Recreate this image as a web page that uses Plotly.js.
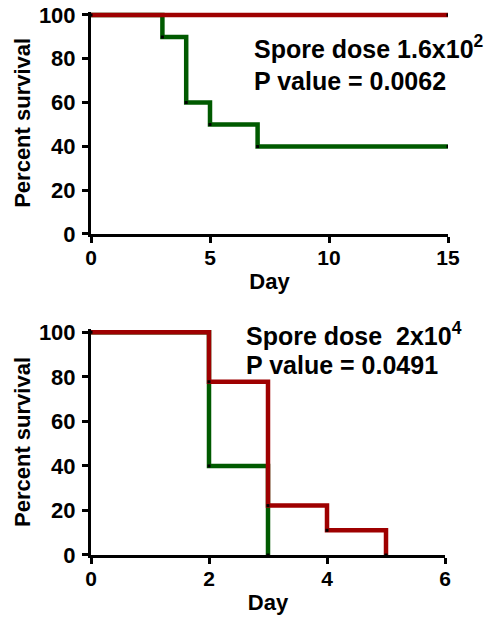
<!DOCTYPE html>
<html>
<head>
<meta charset="utf-8">
<script src="https://cdn.plot.ly/plotly-3.0.1.min.js"></script>
<style>html,body{margin:0;padding:0;background:#fff}#chart{width:500px;height:620px}</style>
</head>
<body>
<div id="chart"></div>
<script>
// Panel A: spore dose 1.6x10^2
const daysA_green = [0, 3, 4, 5, 7, 15];
const survA_green = [100, 90, 60, 50, 40, 40];
const daysA_red = [0, 15];
const survA_red = [100, 100];
// Panel B: spore dose 2x10^4
const daysB_green = [0, 2, 3];
const survB_green = [100, 40, 0];
const daysB_red = [0, 2, 3, 4, 5];
const survB_red = [100, 77.8, 22.2, 11.1, 0];

const xTicksA = [0, 5, 10, 15];
const xTicksB = [0, 2, 4, 6];
const yTicks = [0, 20, 40, 60, 80, 100];

const RED = '#9e0000', GREEN = '#005a00';
const FONT = 'Liberation Sans, Arial, sans-serif';

function trace(x, y, color, xa, ya) {
  return {x: x, y: y, xaxis: xa, yaxis: ya, mode: 'lines+markers', line: {shape: 'hv', color: color, width: 4.5},
          marker: {symbol: 'square', size: 3, color: '#000'}, hoverinfo: 'skip', showlegend: false};
}

const data = [
  trace(daysA_green, survA_green, GREEN, 'x', 'y'),
  trace(daysA_red, survA_red, RED, 'x', 'y'),
  trace(daysB_green, survB_green, GREEN, 'x2', 'y2'),
  trace(daysB_red, survB_red, RED, 'x2', 'y2')
];

function xax(range, ticks, domain, anchor) {
  return {range: range, domain: domain, anchor: anchor, tickvals: ticks, ticktext: ticks.map(String),
    showline: true, linewidth: 3, linecolor: '#000', ticks: 'outside', ticklen: 6, tickwidth: 3, tickcolor: '#000',
    showgrid: false, zeroline: false, fixedrange: true, ticklabelstandoff: -3,
    tickfont: {family: FONT, size: 21, color: '#000', weight: 700},
    title: {text: 'Day', standoff: 6, font: {family: FONT, size: 22, color: '#000', weight: 700}}};
}
function yax(domain, anchor) {
  return {range: [0, 101.5], domain: domain, anchor: anchor, tickvals: yTicks, ticktext: yTicks.map(String),
    showline: true, linewidth: 3, linecolor: '#000', ticks: 'outside', ticklen: 6, tickwidth: 3, tickcolor: '#000',
    showgrid: false, zeroline: false, fixedrange: true, ticklabelstandoff: 2,
    tickfont: {family: FONT, size: 22, color: '#000', weight: 700},
    title: {text: 'Percent survival', standoff: 3, font: {family: FONT, size: 22, color: '#000', weight: 700}}};
}

function ann(text, x, y) {
  return {text: text, x: x, y: y, xref: 'paper', yref: 'paper', xanchor: 'left', yanchor: 'middle', showarrow: false,
          font: {family: FONT, size: 25, color: '#000', weight: 700}};
}

const layout = {
  width: 500, height: 620,
  margin: {l: 91, r: 52, t: 10, b: 65},
  paper_bgcolor: '#fff', plot_bgcolor: '#fff',
  xaxis: xax([0, 15], xTicksA, [0, 1], 'y'),
  yaxis: yax([0.589, 0.9969], 'x'),
  xaxis2: xax([0, 6], xTicksB, [0, 0.9916], 'y2'),
  yaxis2: yax([0, 0.4147], 'x2'),
  annotations: [
    ann('Spore dose 1.6x10<sup>2</sup>', 0.4510, 0.932),
    ann('P value = 0.0062', 0.4510, 0.8706),
    ann('Spore dose  2x10<sup>4</sup>', 0.4286, 0.4064),
    ann('P value = 0.0491', 0.4286, 0.3486)
  ]
};

Plotly.newPlot('chart', data, layout, {displayModeBar: false, staticPlot: true});
</script>
</body>
</html>
